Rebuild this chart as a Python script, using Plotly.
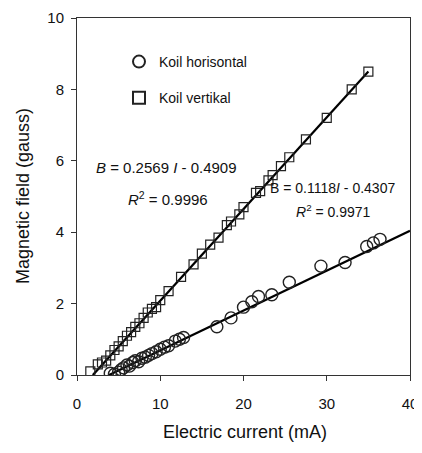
import plotly.graph_objects as go

# Koil horisontal (circles)
hor_I = [4.0, 4.5, 5.0, 5.3, 5.6, 6.0, 6.3, 6.7, 7.0, 7.4, 7.8, 8.2, 8.6, 9.0, 9.5,
         10.0, 10.5, 11.0, 11.8, 12.3, 12.8, 16.8, 18.5, 20.0, 21.0, 21.8, 23.4,
         25.5, 29.3, 32.2, 34.8, 35.6, 36.4]
hor_B = [0.05, 0.02, 0.08, 0.15, 0.2, 0.28, 0.25, 0.35, 0.4, 0.37, 0.47, 0.5, 0.55,
         0.6, 0.65, 0.72, 0.78, 0.82, 0.95, 1.0, 1.05, 1.35, 1.6, 1.9, 2.05, 2.2,
         2.25, 2.6, 3.05, 3.15, 3.6, 3.7, 3.8]

# Koil vertikal (squares)
ver_I = [1.6, 2.5, 3.0, 3.5, 4.0, 4.5, 5.0, 5.5, 6.0, 6.5, 7.0, 7.5, 8.0, 8.5, 9.0,
         9.5, 10.0, 11.0, 12.5, 14.0, 15.0, 16.0, 17.0, 18.0, 18.5, 19.5, 20.0,
         21.5, 22.0, 23.0, 23.5, 24.5, 25.5, 27.5, 30.0, 33.0, 35.0]
ver_B = [0.1, 0.3, 0.35, 0.4, 0.55, 0.7, 0.8, 0.95, 1.1, 1.2, 1.35, 1.45, 1.6, 1.75,
         1.85, 1.9, 2.1, 2.35, 2.75, 3.1, 3.4, 3.65, 3.85, 4.2, 4.3, 4.5, 4.7, 5.1,
         5.15, 5.45, 5.6, 5.85, 6.1, 6.6, 7.2, 8.0, 8.5]

# Trend lines from the printed equations
ver_slope, ver_icpt = 0.2569, -0.4909
hor_slope, hor_icpt = 0.1118, -0.4307
ver_line_I = [1.9, 35.0]
hor_line_I = [3.85, 40.0]

x_ticks = [0, 10, 20, 30, 40]
y_ticks = [0, 2, 4, 6, 8, 10]

font = "Liberation Sans, Arial, sans-serif"
TXT = "#111111"
OFF = 8  # page body margin
W, H = 422 - OFF, 453 - OFF
ML, MR, MT, MB = 77 - OFF, 12, 18 - OFF, 78
PW, PH = W - ML - MR, H - MT - MB


def px(xp, yp):
    """convert window pixel position to paper coords"""
    xp -= OFF
    yp -= OFF
    return (xp - ML) / PW, (H - MB - yp) / PH


fig = go.Figure()
fig.add_trace(go.Scatter(
    x=ver_line_I, y=[ver_slope * i + ver_icpt for i in ver_line_I],
    mode="lines", line=dict(color="black", width=2.2), showlegend=False))
fig.add_trace(go.Scatter(
    x=hor_line_I, y=[hor_slope * i + hor_icpt for i in hor_line_I],
    mode="lines", line=dict(color="black", width=2.2), showlegend=False))
fig.add_trace(go.Scatter(
    x=hor_I, y=hor_B, mode="markers", name="Koil horisontal", legendgroup="h",
    marker=dict(symbol="circle-open", size=12, color="#222222", line=dict(width=1.4))))
fig.add_trace(go.Scatter(
    x=ver_I, y=ver_B, mode="markers", name="Koil vertikal", legendgroup="v",
    marker=dict(symbol="square-open", size=9, color="#222222", line=dict(width=1.2))))

annots = [
    (166, 168, "<i>B</i> = 0.2569 <i>I</i> - 0.4909", 15),
    (168, 198, "<i>R</i><sup>2</sup> = 0.9996", 15),
    (332, 188, "B = 0.1118<i>I</i> - 0.4307", 14),
    (333, 211, "<i>R</i><sup>2</sup> = 0.9971", 14),
]
for xp, yp, txt, sz in annots:
    ax_, ay_ = px(xp, yp)
    fig.add_annotation(x=ax_, y=ay_, xref="paper", yref="paper", text=txt,
                       showarrow=False, xanchor="center", yanchor="middle",
                       font=dict(size=sz, color=TXT, family=font))

# axis titles
tx, ty = px(245, 432)
fig.add_annotation(x=tx, y=ty, xref="paper", yref="paper", text="Electric current (mA)",
                   showarrow=False, xanchor="center", yanchor="middle",
                   font=dict(size=18, color=TXT, family=font))
tx, ty = px(23, 196)
fig.add_annotation(x=tx, y=ty, xref="paper", yref="paper", text="Magnetic field (gauss)",
                   showarrow=False, xanchor="center", yanchor="middle", textangle=-90,
                   font=dict(size=18, color=TXT, family=font))

lx, ly = px(119, 46)
fig.update_layout(
    width=W, height=H,
    margin=dict(l=ML, r=MR, t=MT, b=MB, autoexpand=False),
    paper_bgcolor="white", plot_bgcolor="white",
    font=dict(family=font, color=TXT),
    legend=dict(x=lx, y=ly, xanchor="left", yanchor="top",
                bgcolor="rgba(0,0,0,0)", font=dict(size=14, family=font, color=TXT),
                itemsizing="constant", tracegroupgap=15),
    xaxis=dict(range=[0, 40], tickvals=x_ticks, ticks="outside", ticklen=5,
               tickcolor="#333", showline=True, linecolor="#333", linewidth=1,
               mirror=True, showgrid=False, zeroline=False, automargin=False,
               ticklabelstandoff=10,
               tickfont=dict(size=15, family=font, color=TXT)),
    yaxis=dict(range=[0, 10], tickvals=y_ticks, ticks="outside", ticklen=5,
               tickcolor="#333", showline=True, linecolor="#333", linewidth=1,
               mirror=True, showgrid=False, zeroline=False, automargin=False,
               ticklabelstandoff=4,
               tickfont=dict(size=15, family=font, color=TXT)),
)

fig.write_html("out.html")
